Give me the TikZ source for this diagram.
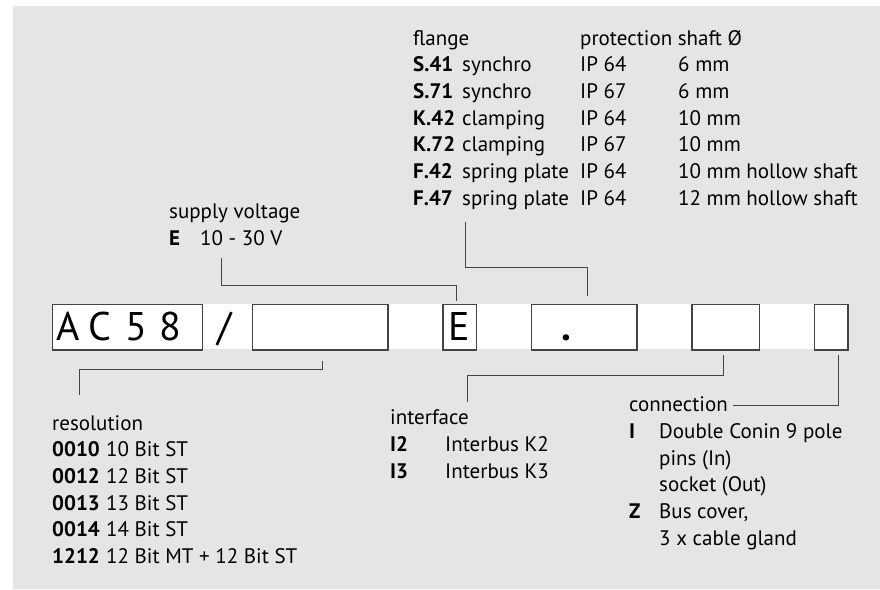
\documentclass[tikz,border=0pt]{standalone}
\usepackage{fontspec}
\setmainfont{PT Sans}
\definecolor{bg}{HTML}{E5E5E5}
\definecolor{ln}{HTML}{444444}
\tikzset{
  txt/.style={anchor=base west, inner sep=0pt, font=\fontsize{21}{26.7}\selectfont},
  bld/.style={anchor=base west, inner sep=0pt, font=\fontsize{21}{26.7}\selectfont\bfseries},
  big/.style={anchor=base, inner sep=0pt, font=\fontsize{40}{40}\selectfont},
  codebox/.style={draw=ln, line width=1.2pt, fill=white, inner sep=0pt, anchor=north west, minimum height=45.3pt},
  lead/.style={draw=ln, line width=1pt},
}
\begin{document}
\begin{tikzpicture}[x=1pt,y=-1pt]
\useasboundingbox (0,0) rectangle (880,589);
\fill[bg] (13,6) rectangle (880,589);
\fill[white] (52,304) rectangle (847.5,349.3);
% code boxes
\node[codebox, minimum width=150pt] (b1) at (52,304) {};
\node[codebox, minimum width=135.6pt] (b2) at (251.7,304) {};
\node[codebox, minimum width=33.4pt] (bE) at (442.3,304) {};
\node[codebox, minimum width=105.3pt] (b3) at (531,304) {};
\node[codebox, minimum width=67.7pt] (b4) at (691.3,304) {};
\node[codebox, minimum width=33.3pt] (b5) at (814,304) {};
\node[big] (cA) at (67.8,340) {A};
\node[big] (cC) at (99.5,340) {C};
\node[big] (c5) at (136.3,340) {5};
\node[big] (c8) at (170.8,340) {8};
\node[big] (slash) at (225,340) {/};
\node[big] (cE) at (459.3,340) {E};
\node[big, font=\fontsize{40}{40}\selectfont\bfseries] (dot) at (566.7,340) {.};
% supply voltage
\node[txt] (sv) at (169,218.3) {supply voltage};
\node[bld] (svE) at (169,245) {E};
\node[txt] (svV) at (200,245) {10 - 30 V};
\coordinate (svA) at (221.5,258);
\coordinate (svB) at (456.5,301);
\draw[lead] (svA) |- (456.5,285) -- (svB);
% flange
\node[txt] (fl) at (413,45) {flange};
\node[txt] (pr) at (580,45) {protection shaft Ø};
\foreach \c/\d/\p/\s [count=\i] in {S.41/synchro/IP 64/6 mm, S.71/synchro/IP 67/6 mm, K.42/clamping/IP 64/10 mm, K.72/clamping/IP 67/10 mm, F.42/spring plate/IP 64/10 mm hollow shaft, F.47/spring plate/IP 64/12 mm hollow shaft}{
  \pgfmathsetmacro{\yy}{71.7+26.7*(\i-1)}
  \node[bld] (fc\i) at (413,\yy) {\c};
  \node[txt] (fd\i) at (462,\yy) {\d};
  \node[txt] (fp\i) at (580,\yy) {\p};
  \node[txt] (fs\i) at (678,\yy) {\s};
}
\coordinate (flA) at (465,222);
\coordinate (flB) at (587.5,296);
\draw[lead] (flA) |- (587.5,267) -- (flB);
% resolution
\node[txt] (res) at (52,430) {resolution};
\foreach \c/\d [count=\i] in {0010/10 Bit ST, 0012/12 Bit ST, 0013/13 Bit ST, 0014/14 Bit ST, 1212/12 Bit MT + 12 Bit ST}{
  \pgfmathsetmacro{\yy}{456.7+26.7*(\i-1)}
  \node[bld] (rc\i) at (52,\yy) {\c};
  \node[txt] (rd\i) at (106,\yy) {\d};
}
\coordinate (reA) at (79,395);
\coordinate (reB) at (322,361);
\draw[lead] (reA) |- (322,369) -- (reB);
% interface
\node[txt] (itf) at (390,424.5) {interface};
\node[bld] (ic1) at (390,451.3) {I2};
\node[txt] (id1) at (445,451.3) {Interbus K2};
\node[bld] (ic2) at (390,478) {I3};
\node[txt] (id2) at (445,478) {Interbus K3};
\coordinate (itA) at (467,401.5);
\coordinate (itB) at (723,355);
\draw[lead] (itA) |- (723,375) -- (itB);
% connection
\node[txt] (con) at (629,411.7) {connection};
\node[bld] (cc1) at (629,438.3) {I};
\node[txt] (cd1) at (659,438.3) {Double Conin 9 pole};
\node[txt] (cd2) at (659,465) {pins (In)};
\node[txt] (cd3) at (659,491.7) {socket (Out)};
\node[bld] (cc2) at (629,518.3) {Z};
\node[txt] (cd4) at (659,518.3) {Bus cover,};
\node[txt] (cd5) at (659,545) {3 x cable gland};
\coordinate (coA) at ([xshift=5pt]con.east |- 0,405);
\coordinate (coB) at (838,355);
\draw[lead] (coA) -| (coB);
\end{tikzpicture}
\end{document}
